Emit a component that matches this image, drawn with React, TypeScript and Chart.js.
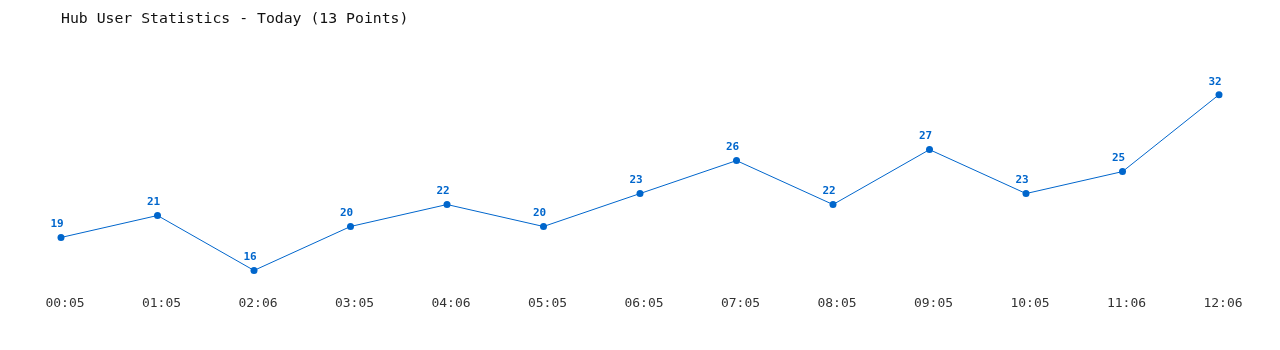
import React, { useEffect, useRef } from "react";
import { Chart, registerables } from "chart.js";

Chart.register(...registerables);

const timeLabels = ["00:05", "01:05", "02:06", "03:05", "04:06", "05:05", "06:05", "07:05", "08:05", "09:05", "10:05", "11:06", "12:06"];
const userCounts = [19, 21, 16, 20, 22, 20, 23, 26, 22, 27, 23, 25, 32];
const titleText = "Hub User Statistics - Today (13 Points)";

const BLUE = "#0066cc";
const MONO = "'DejaVu Sans Mono', 'Liberation Mono', monospace";

const valueLabelPlugin = {
  id: "valueLabels",
  afterDatasetsDraw(chart: any) {
    const ctx = chart.ctx;
    const meta = chart.getDatasetMeta(0);
    const data = chart.data.datasets[0].data;
    ctx.save();
    ctx.font = `bold 11px ${MONO}`;
    ctx.fillStyle = BLUE;
    ctx.textAlign = "center";
    ctx.textBaseline = "middle";
    meta.data.forEach((pt: any, i: number) => {
      ctx.fillText(String(data[i]), pt.x - 4, pt.y - 13);
    });
    ctx.restore();
  },
};

export default function App() {
  const ref = useRef<HTMLCanvasElement>(null);
  useEffect(() => {
    if (!ref.current) return;
    const chart = new Chart(ref.current, {
      type: "line",
      data: {
        labels: timeLabels,
        datasets: [
          {
            data: userCounts,
            borderColor: BLUE,
            backgroundColor: BLUE,
            borderWidth: 1,
            pointRadius: 3.5,
            pointBackgroundColor: BLUE,
            pointBorderWidth: 0,
            tension: 0,
            fill: false,
          },
        ],
      },
      options: {
        responsive: false,
        animation: false,
        layout: { padding: { left: 53, right: 53, top: 0, bottom: 28 } },
        plugins: {
          legend: { display: false },
          tooltip: { enabled: false },
          title: {
            display: true,
            text: titleText,
            align: "start",
            color: "#111",
            font: { family: MONO, size: 14.8, weight: "normal" },
            padding: { top: 2, bottom: 23 },
          },
        },
        scales: {
          x: {
            offset: false,
            grid: { display: false, drawTicks: false },
            border: { display: false },
            ticks: { color: "#333", font: { family: MONO, size: 13 }, padding: 3, labelOffset: 4, maxRotation: 0, autoSkip: false },
          },
          y: {
            display: false,
            min: 14,
            max: 36,
          },
        },
      },
      plugins: [valueLabelPlugin],
    });
    return () => chart.destroy();
  }, []);
  return <canvas ref={ref} width={1264} height={334} style={{ display: "block" }} />;
}
